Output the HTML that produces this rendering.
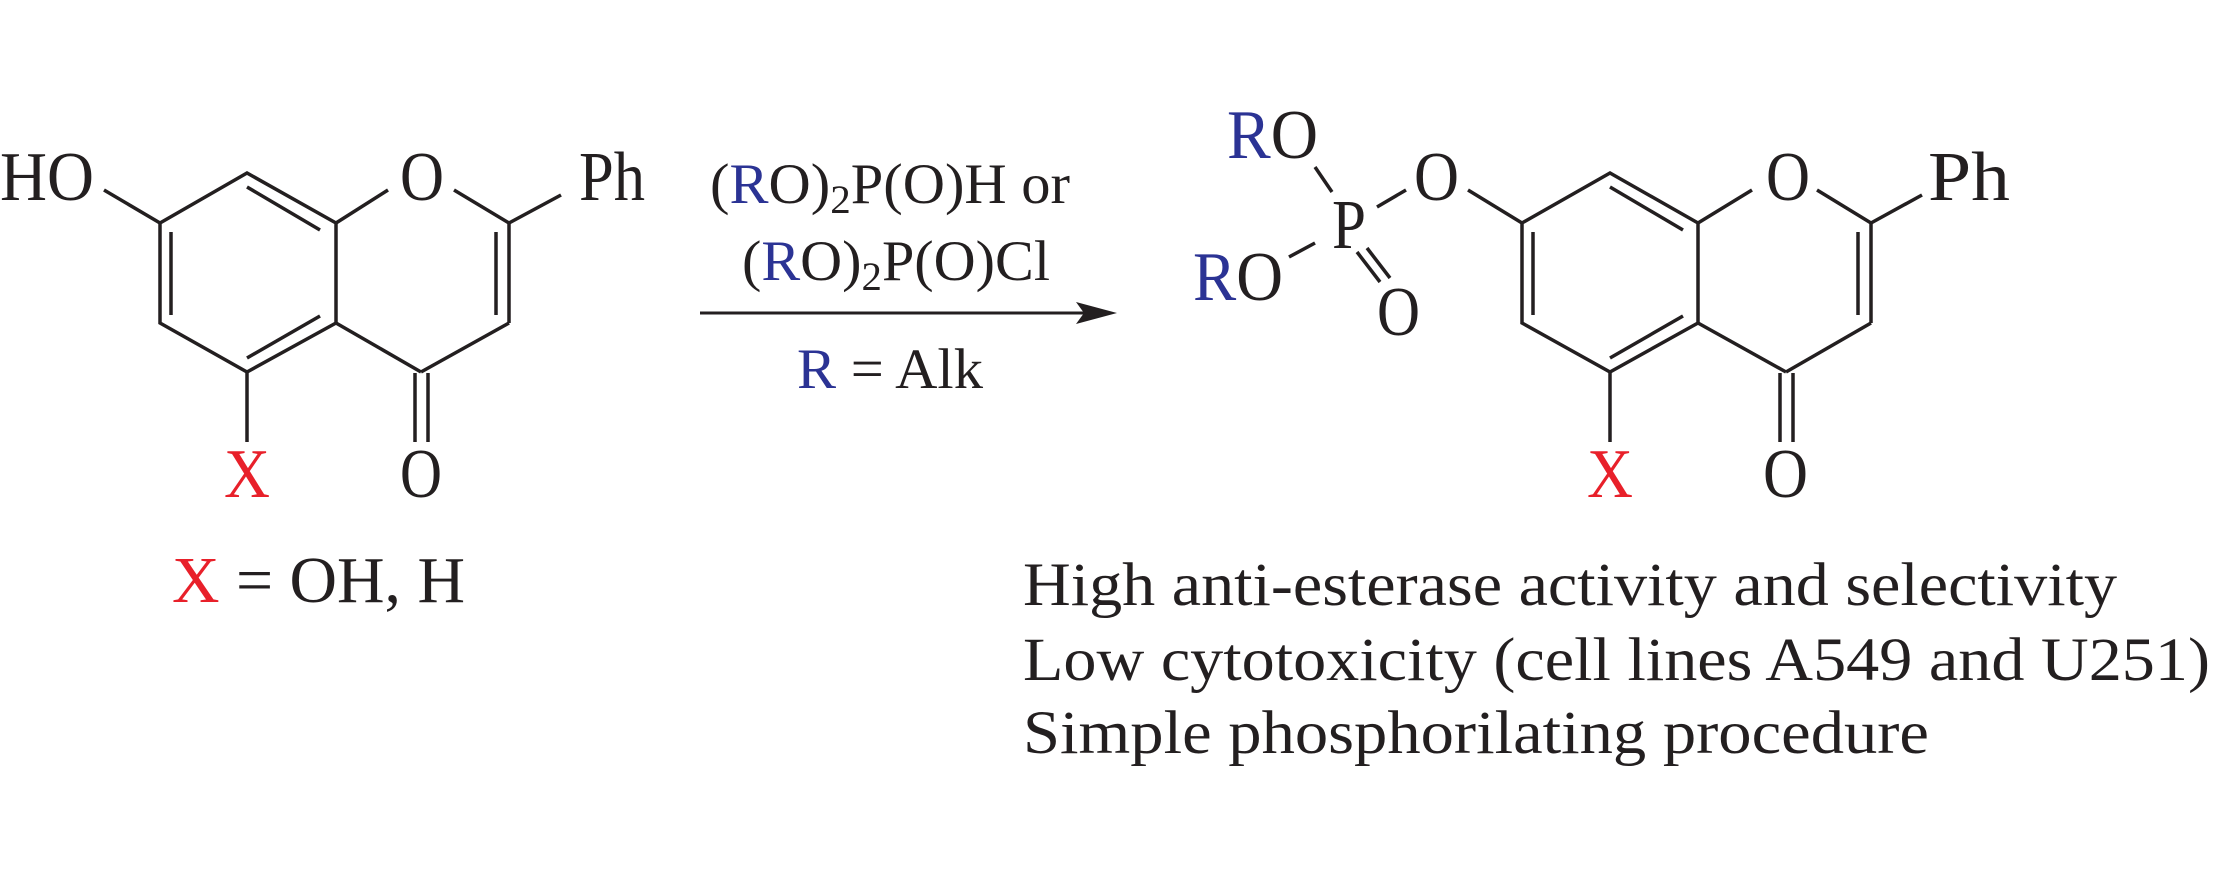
<!DOCTYPE html>
<html><head><meta charset="utf-8"><style>
html,body{margin:0;padding:0;background:#fff;}
svg{display:block;}
text{font-family:"Liberation Serif",serif;fill:#231f20;}
.b{fill:#2b3394;}
.r{fill:#e8202a;}
</style></head><body>
<svg width="2213" height="886" viewBox="0 0 2213 886" xmlns="http://www.w3.org/2000/svg">
<g stroke="#231f20" stroke-width="3.5" fill="none" stroke-linecap="butt">
<line x1="104" y1="190" x2="160" y2="223"/>
<polyline points="160,223 247,173 336,223 336,323 247,372 160,323 160,223"/>
<line x1="171" y1="232" x2="171" y2="315"/>
<line x1="247" y1="187" x2="320" y2="230"/>
<line x1="320" y1="316" x2="247" y2="358"/>
<line x1="336" y1="223" x2="388" y2="190"/>
<line x1="454" y1="190" x2="509" y2="223"/>
<line x1="509" y1="223" x2="509" y2="323"/>
<line x1="496" y1="232" x2="496" y2="315"/>
<line x1="509" y1="323" x2="421" y2="372"/>
<line x1="336" y1="323" x2="421" y2="372"/>
<line x1="415" y1="373" x2="415" y2="442"/>
<line x1="428" y1="373" x2="428" y2="442"/>
<line x1="247" y1="372" x2="247" y2="442"/>
<line x1="509" y1="223" x2="561" y2="195"/>
<line x1="1315" y1="167" x2="1332" y2="192"/>
<line x1="1377" y1="207" x2="1406" y2="190"/>
<line x1="1315" y1="243" x2="1289" y2="257"/>
<line x1="1357" y1="252" x2="1380" y2="282"/>
<line x1="1367" y1="248" x2="1390" y2="278"/>
<line x1="1468" y1="190" x2="1522" y2="223"/>
<polyline points="1522,223 1610,173 1698,223 1698,323 1610,372 1522,323 1522,223"/>
<line x1="1533" y1="232" x2="1533" y2="315"/>
<line x1="1610" y1="187" x2="1683" y2="230"/>
<line x1="1683" y1="316" x2="1610" y2="358"/>
<line x1="1698" y1="223" x2="1752" y2="190"/>
<line x1="1817" y1="190" x2="1871" y2="223"/>
<line x1="1871" y1="223" x2="1871" y2="323"/>
<line x1="1858" y1="232" x2="1858" y2="315"/>
<line x1="1871" y1="323" x2="1786" y2="372"/>
<line x1="1698" y1="323" x2="1786" y2="372"/>
<line x1="1780" y1="373" x2="1780" y2="442"/>
<line x1="1793" y1="373" x2="1793" y2="442"/>
<line x1="1610" y1="372" x2="1610" y2="442"/>
<line x1="1871" y1="223" x2="1922" y2="195"/>
<line x1="700" y1="313" x2="1085" y2="313" stroke-width="3"/>
</g>
<polygon points="1117,313 1076,302 1084,313 1076,324" fill="#231f20"/>

<g font-size="70" lengthAdjust="spacingAndGlyphs">
<text x="0" y="200" textLength="94" lengthAdjust="spacingAndGlyphs">HO</text>
<text x="400" y="200" textLength="44" lengthAdjust="spacingAndGlyphs">O</text>
<text x="579" y="200" textLength="66" lengthAdjust="spacingAndGlyphs">Ph</text>
<text x="400" y="497" textLength="42" lengthAdjust="spacingAndGlyphs">O</text>
<text x="224" y="497" class="r" textLength="46" lengthAdjust="spacingAndGlyphs">X</text>

<text x="1227" y="158" textLength="91" lengthAdjust="spacingAndGlyphs"><tspan class="b">R</tspan>O</text>
<text x="1332" y="248" textLength="34" lengthAdjust="spacingAndGlyphs">P</text>
<text x="1414" y="200" textLength="45" lengthAdjust="spacingAndGlyphs">O</text>
<text x="1193" y="300" textLength="90" lengthAdjust="spacingAndGlyphs"><tspan class="b">R</tspan>O</text>
<text x="1377" y="335" textLength="43" lengthAdjust="spacingAndGlyphs">O</text>
<text x="1766" y="200" textLength="44" lengthAdjust="spacingAndGlyphs">O</text>
<text x="1928" y="200" textLength="82" lengthAdjust="spacingAndGlyphs">Ph</text>
<text x="1763" y="497" textLength="45" lengthAdjust="spacingAndGlyphs">O</text>
<text x="1587" y="497" class="r" textLength="46" lengthAdjust="spacingAndGlyphs">X</text>
</g>
<text x="172" y="602" font-size="66" textLength="293" lengthAdjust="spacingAndGlyphs"><tspan class="r">X</tspan> = OH, H</text>

<g font-size="57">
<text x="710" y="203" textLength="360" lengthAdjust="spacingAndGlyphs">(<tspan class="b">R</tspan>O)<tspan font-size="40" dy="10">2</tspan><tspan dy="-10">P(O)H  or</tspan></text>
<text x="742" y="280" textLength="308" lengthAdjust="spacingAndGlyphs">(<tspan class="b">R</tspan>O)<tspan font-size="40" dy="10">2</tspan><tspan dy="-10">P(O)Cl</tspan></text>
<text x="797" y="388" textLength="186" lengthAdjust="spacingAndGlyphs"><tspan class="b">R</tspan> = Alk</text>
</g>

<g font-size="61">
<text x="1023" y="605" textLength="1094" lengthAdjust="spacingAndGlyphs">High anti-esterase activity and selectivity</text>
<text x="1023" y="680" textLength="1187" lengthAdjust="spacingAndGlyphs">Low cytotoxicity (cell lines A549 and U251)</text>
<text x="1023" y="753" textLength="906" lengthAdjust="spacingAndGlyphs">Simple phosphorilating procedure</text>
</g>
</svg>
</body></html>
